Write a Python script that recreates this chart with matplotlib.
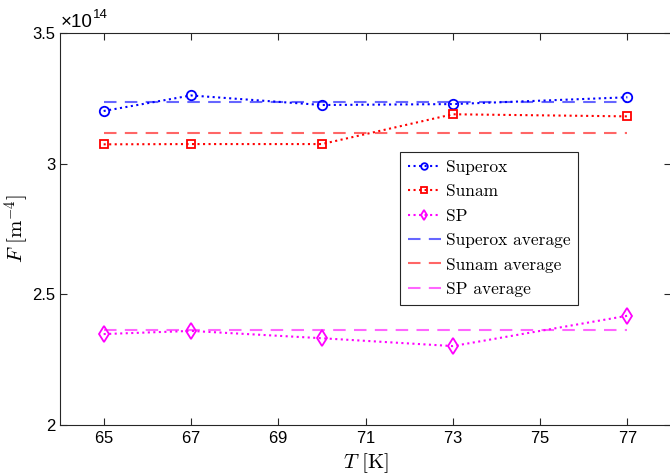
import numpy as np
import matplotlib.pyplot as plt
from matplotlib.ticker import FuncFormatter

plt.rcParams['mathtext.fontset'] = 'cm'
plt.rcParams['font.family'] = ['Liberation Sans', 'DejaVu Sans']
plt.rcParams['axes.formatter.use_mathtext'] = True

# temperatures [K]
T = [65, 67, 70, 73, 77]

# pinning force values (x 1e14 m^-4)
superox = [3.2015, 3.261, 3.2245, 3.228, 3.254]
sunam = [3.074, 3.075, 3.075, 3.189, 3.181]
sp = [2.348, 2.360, 2.332, 2.302, 2.418]

# averages as shown in the figure (x 1e14 m^-4)
superox_avg = 3.236
sunam_avg = 3.118
sp_avg = 2.364

scale = 1e14

fig = plt.figure(figsize=(6.7, 4.75), dpi=100)
ax = fig.add_axes([60 / 670, 1 - 425 / 475, 611 / 670, 392 / 475])

series = [
    ('Superox', superox, superox_avg, 'blue', 'o', 6.8),
    ('Sunam', sunam, sunam_avg, 'red', 's', 5.2),
    ('SP', sp, sp_avg, 'magenta', 'd', 8),
]

for name, vals, avg, col, mk, ms in series:
    ax.plot(T, np.array(vals) * scale, ':', color=col, marker=mk, ms=ms,
            mfc='none', mec=col, mew=1.3, lw=1.5, label=name)

for name, vals, avg, col, mk, ms in series:
    ax.plot([T[0], T[-1]], [avg * scale, avg * scale], '--', color=col,
            alpha=0.6, lw=1.5, dashes=(6, 4), label=name + ' average')

ax.set_xlim(64, 78)
ax.set_ylim(2e14, 3.5e14)
ax.set_xticks(range(65, 78, 2))
ax.set_yticks([2e14, 2.5e14, 3e14, 3.5e14])
ax.yaxis.set_major_formatter(FuncFormatter(lambda v, p: '%g' % (v / scale)))

# exponent label in the top-left corner
fig.text(61 / 670, 1 - 27 / 475, '×10', fontsize=13.5, va='baseline', ha='left')
fig.text(93 / 670, 1 - 18 / 475, '14', fontsize=9.5, va='baseline', ha='left')

ax.tick_params(direction='in', top=True, right=True, labelsize=12,
               color='0.15', length=5, width=0.8)
for s in ax.spines.values():
    s.set_color('0.15')
    s.set_linewidth(0.8)

ax.set_xlabel(r'$T\ [\mathrm{K}]$', fontsize=15, labelpad=4)
ax.set_ylabel(r'$F\ [\mathrm{m}^{-4}]$', fontsize=15, labelpad=1)

leg = ax.legend(loc='upper left', bbox_to_anchor=(400 / 670, 1 - 152 / 475),
                bbox_transform=fig.transFigure, prop={'family': 'cmr10', 'size': 12.5},
                fancybox=False, edgecolor='0.15', framealpha=1, borderpad=0.45,
                handlelength=1.9, handletextpad=0.3, labelspacing=0.52,
                borderaxespad=0, markerscale=0.7)
leg.get_frame().set_linewidth(0.8)

fig.savefig('out.png', dpi=100)
